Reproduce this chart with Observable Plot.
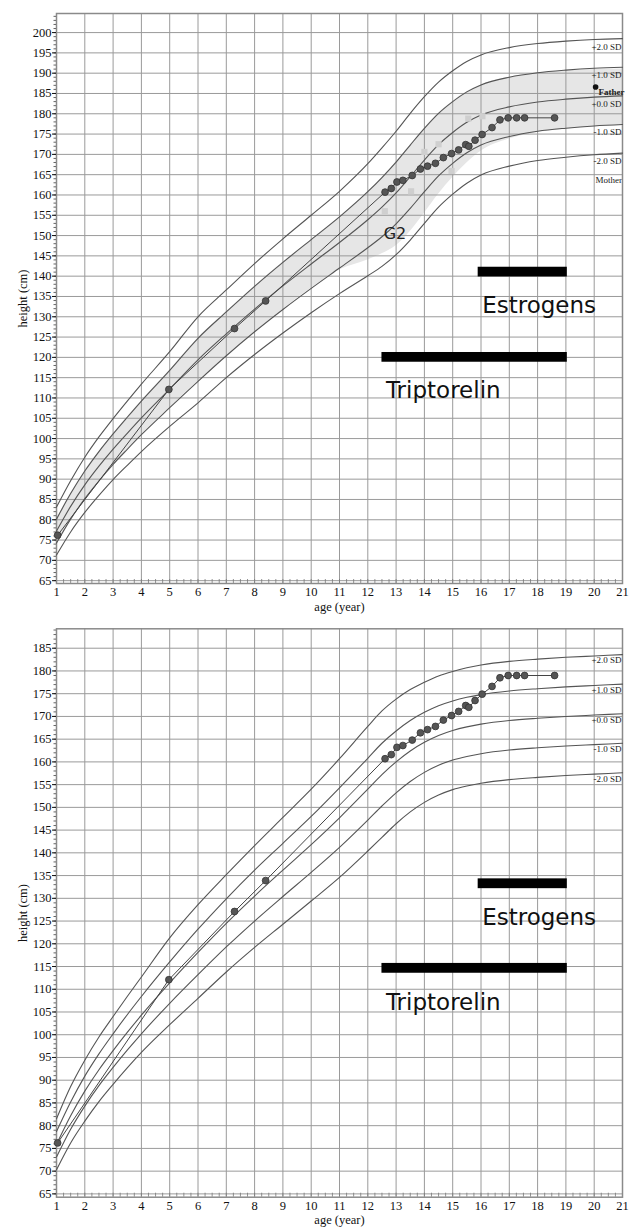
<!DOCTYPE html>
<html><head><meta charset="utf-8">
<script src="https://cdn.jsdelivr.net/npm/d3@7"></script>
<script src="https://cdn.jsdelivr.net/npm/@observablehq/plot@0.6"></script>
<style>
body{margin:0;background:#fff;width:632px;height:1229px;overflow:hidden;position:relative}
#top,#bot{position:absolute;left:0}
#top{top:0;z-index:2}
#bot{top:612px;z-index:1}
</style></head><body>
<div id="top"></div><div id="bot"></div>
<script>
// ---------- reference ages ----------
const refAges = [1,1.5,2,2.5,3,3.5,4,5,6,7,8,9,10,11,12,12.5,13,13.5,14,14.5,15,15.5,16,17,18,19,20,21];

// ---------- top panel SD curves (male reference) ----------
const topMinus2 = [71.3,77.0,81.8,86.0,89.9,93.4,96.8,103.0,108.8,115.0,120.7,126.0,131.0,135.7,140.1,142.4,145.3,148.9,153.0,157.0,160.2,162.9,164.9,167.1,168.5,169.3,169.9,170.3];
const topMinus1 = [74.25,80.15,85.2,89.6,93.65,97.35,100.95,107.6,114.1,120.4,126.3,131.8,137.0,142.0,147.0,149.7,152.9,156.7,160.8,164.7,167.8,170.4,172.3,174.4,175.7,176.45,177.0,177.35];
const topZero   = [77.2,83.3,88.6,93.2,97.4,101.3,105.1,112.2,119.4,125.8,131.9,137.6,143.0,148.3,153.9,157.0,160.5,164.5,168.6,172.4,175.4,177.9,179.7,181.7,182.9,183.6,184.1,184.4];
const topPlus1  = [80.15,86.45,92.0,96.8,101.15,105.25,109.25,116.8,124.7,131.2,137.5,143.4,149.0,154.6,160.8,164.3,168.1,172.3,176.4,180.1,183.0,185.4,187.1,189.0,190.1,190.75,191.2,191.45];
const topPlus2  = [83.1,89.6,95.4,100.4,104.9,109.2,113.4,121.4,130.0,136.6,143.1,149.2,155.0,160.9,167.7,171.6,175.7,180.1,184.2,187.8,190.6,192.9,194.5,196.3,197.3,197.9,198.3,198.5];

// shaded target range (top panel)
const topBandLow  = [74.25,80.15,85.2,89.6,93.65,97.35,100.95,107.6,114.1,120.4,126.3,131.8,137.0,141.5,144.0,145.5,147.5,151.0,155.5,160.2,164.3,167.9,170.8,173.8,175.4,176.2,176.8,177.1];
const topBandHigh = [80.15,86.45,92.0,96.8,101.15,105.25,109.25,116.8,124.7,131.2,137.5,143.4,149.0,154.6,160.8,164.3,168.1,172.3,176.4,180.1,183.0,185.4,187.1,189.0,190.1,190.6,190.9,191.0];

// ---------- bottom panel SD curves (female reference) ----------
const botMinus2 = [70.3,76.2,81.0,85.3,89.1,92.7,96.1,102.2,108.0,113.8,119.2,124.3,129.4,134.6,140.4,143.4,146.4,149.0,151.1,152.7,153.9,154.7,155.3,156.1,156.6,157.0,157.3,157.6];
const botMinus1 = [73.1,79.2,84.3,88.8,92.8,96.6,100.2,106.9,113.2,119.3,125.0,130.4,135.7,141.2,147.2,150.3,153.2,155.7,157.7,159.25,160.4,161.2,161.8,162.6,163.1,163.5,163.8,164.1];
const botZero   = [75.9,82.2,87.6,92.3,96.5,100.5,104.3,111.4,118.1,124.5,130.5,136.2,141.8,147.7,154.0,157.2,160.0,162.4,164.3,165.8,166.9,167.7,168.3,169.1,169.6,170.0,170.3,170.6];
const botPlus1  = [78.7,85.2,90.9,95.8,100.2,104.4,108.4,116.0,123.2,129.9,136.2,142.1,148.0,154.3,160.8,164.1,166.8,169.1,170.9,172.35,173.4,174.2,174.8,175.6,176.1,176.5,176.8,177.1];
const botPlus2  = [81.5,88.6,94.4,99.5,104.0,108.4,112.7,121.3,128.6,135.2,141.6,147.8,154.0,160.7,167.8,171.2,173.8,175.9,177.5,178.9,179.9,180.7,181.3,182.1,182.6,183.0,183.3,183.6];

const sdLabels = ["-2.0 SD","-1.0 SD","+0.0 SD","+1.0 SD","+2.0 SD"];

// ---------- patient measurements ----------
const patientAge    = [1.04,4.97,7.29,8.39,12.61,12.83,13.03,13.24,13.57,13.86,14.11,14.39,14.67,14.96,15.21,15.46,15.57,15.79,16.04,16.39,16.67,16.96,17.26,17.54,18.6];
const patientHeight = [76.2,112.1,127.1,133.9,160.7,161.6,163.2,163.6,164.8,166.4,167.1,167.8,169.2,170.2,171.1,172.4,172.0,173.5,174.9,176.6,178.5,179.0,179.0,179.0,179.0];

// faint bone-age markers (top panel)
const boneAge    = [12.6,13.53,14.0,14.5,14.96,15.55,16.05];
const boneHeight = [156.0,160.9,170.6,172.5,165.9,178.8,179.4];

// parents (top panel)
const parentLabels = ["Father","Mother"];
const parentAge    = [20.05,20.05];
const parentHeight = [186.6,163.6];

// treatments
const treatNames = ["Triptorelin","Estrogens"];
const treatStart = [12.5,15.9];
const treatEnd   = [19.05,19.05];
const topBarLevel = [120.0,141.0];
const botBarLevel = [114.6,133.2];
const topTextLevel = [111.8,132.8];
const botTextLevel = [107.1,125.8];
const stageLabel = "G2";
const stagePos = [12.56,150.4];

// ---------- axes ----------
const ageTicks = d3.range(1,22,1);
const ageMinor = d3.range(1,21.01,0.25);
const topHeightTicks = d3.range(65,201,5);
const botHeightTicks = d3.range(65,186,5);
const topHeightMinor = d3.range(65,205,1);
const botHeightMinor = d3.range(65,190,1);

function sdRows(curves){
  const rows=[];
  curves.forEach((c,k)=>refAges.forEach((a,i)=>rows.push({a,h:c[i],k})));
  return rows;
}

function chart(o){
  const curves = o.curves;
  const rows = sdRows(curves);
  const ends = curves.map((c,k)=>({a:21,h:c[c.length-1],t:sdLabels[k]}));
  const pts = patientAge.map((a,i)=>({a,h:patientHeight[i]}));
  const frameH = o.height - o.mt - o.mb;
  const bars = treatNames.map((n,i)=>({n,x1:treatStart[i],x2:treatEnd[i],y:o.barLevel[i],ty:o.textLevel[i]}));
  const marks = [];
  if (o.band) {
    const b = refAges.map((a,i)=>({a,lo:o.band[0][i],hi:o.band[1][i]}));
    marks.push(Plot.areaY(b,{x:"a",y1:"lo",y2:"hi",fill:"#e6e6e6",curve:"monotone-x"}));
  }
  marks.push(
    Plot.ruleY(o.hTicks,{stroke:"#9a9a9a",strokeWidth:1}),
    Plot.ruleX(ageTicks,{stroke:"#9a9a9a",strokeWidth:1}),
    Plot.tickX(ageMinor,{x:d=>d,insetTop:frameH-4,stroke:"#777",strokeWidth:0.8}),
    Plot.frame({stroke:"#8a8a8a",strokeWidth:1.5}),
    Plot.axisX(ageTicks,{tickSize:0,tickPadding:4,fontSize:12.5,label:"age (year)",labelAnchor:"center",labelArrow:"none",labelOffset:o.xLabelOffset}),
    Plot.axisY(o.hMinor,{tickSize:2.5,tickFormat:()=>"",label:null,stroke:"#666"}),
    Plot.axisY(o.hTicks,{tickSize:4,tickPadding:1,fontSize:12.5,label:"height (cm)",labelAnchor:"center",labelArrow:"none",labelOffset:38}),
    Plot.line(rows,{x:"a",y:"h",z:"k",curve:"monotone-x",stroke:"#555",strokeWidth:1.1}),
    Plot.text(ends,{x:"a",y:"h",text:"t",dy:o.labelDy,dx:-1,textAnchor:"end",fontSize:9,fill:"#222"})
  );
  if (o.extras) marks.push(...o.extras);
  marks.push(
    Plot.line(pts,{x:"a",y:"h",stroke:"#444",strokeWidth:1}),
    Plot.dot(pts,{x:"a",y:"h",r:3.4,fill:"#555",stroke:"#333",strokeWidth:0.8}),
    Plot.rect(bars,{x1:"x1",x2:"x2",y1:d=>d.y-1.2*o.barScale,y2:d=>d.y+1.2*o.barScale,fill:"#000"}),
    Plot.text(bars,{x:"x1",y:"ty",text:"n",textAnchor:"start",dx:4,fontFamily:"DejaVu Sans",fontSize:23,fill:"#111"})
  );
  return Plot.plot({
    width:632,height:o.height,
    marginLeft:56,marginRight:10,marginTop:o.mt,marginBottom:o.mb,
    style:{fontFamily:"'Liberation Serif','Times New Roman',serif",fontSize:"12.5px",color:"#111",background:"#fff"},
    x:{domain:[1,21]},
    y:{domain:o.yDomain},
    marks
  });
}

const bonePts = boneAge.map((a,i)=>({a,h:boneHeight[i]}));
const parents = parentLabels.map((t,i)=>({t,a:parentAge[i],h:parentHeight[i]}));

const topChart = chart({
  curves:[topMinus2,topMinus1,topZero,topPlus1,topPlus2],
  band:[topBandLow,topBandHigh],
  yDomain:[64.3,204.7],height:616,mt:13,mb:33,
  hTicks:topHeightTicks,hMinor:topHeightMinor,
  labelDy:8,xLabelOffset:27,
  barLevel:topBarLevel,textLevel:topTextLevel,barScale:1.0,
  extras:[
    Plot.dot(bonePts,{x:"a",y:"h",symbol:"square",r:3.5,fill:"#cfcfcf"}),
    Plot.dot(parents.slice(0,1),{x:"a",y:"h",r:2.8,fill:"#111"}),
    Plot.text(parents.slice(0,1),{x:"a",y:"h",text:"t",dx:3,dy:5,textAnchor:"start",fontSize:9,fontWeight:"bold",fill:"#222"}),
    Plot.text(parents.slice(1),{x:"a",y:"h",text:"t",textAnchor:"start",fontSize:9,fill:"#222",clip:true}),
    Plot.text([stageLabel],{x:()=>stagePos[0],y:()=>stagePos[1],text:d=>d,textAnchor:"start",fontFamily:"DejaVu Sans",fontSize:16,fill:"#222"})
  ]
});
const botChart = chart({
  curves:[botMinus2,botMinus1,botZero,botPlus1,botPlus2],
  band:null,
  yDomain:[64.27,189.27],height:617,mt:16.3,mb:32.3,
  hTicks:botHeightTicks,hMinor:botHeightMinor,
  labelDy:6,xLabelOffset:27,
  barLevel:botBarLevel,textLevel:botTextLevel,barScale:0.9,
  extras:[]
});
document.getElementById("top").appendChild(topChart);
document.getElementById("bot").appendChild(botChart);
</script>
</body></html>
